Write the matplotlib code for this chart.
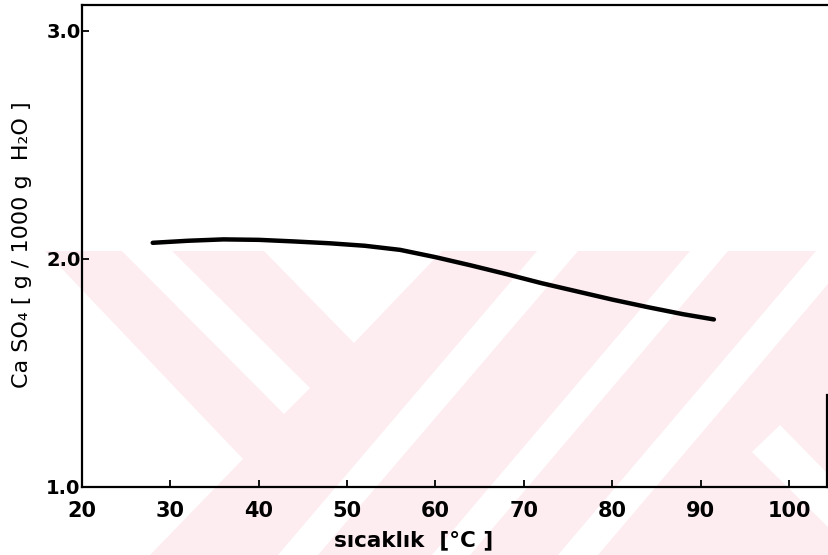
import matplotlib.pyplot as plt
import matplotlib.patches as patches

# CaSO4 solubility vs. temperature
sicaklik = [28, 32, 36, 40, 44, 48, 52, 56, 60, 64, 68, 72, 76, 80, 84, 88, 91.5]
caso4 = [2.071, 2.080, 2.086, 2.084, 2.077, 2.069, 2.058, 2.040, 2.008,
         1.972, 1.934, 1.894, 1.858, 1.822, 1.789, 1.758, 1.735]

x_ticks = [20, 30, 40, 50, 60, 70, 80, 90, 100]
y_ticks = [1.0, 2.0, 3.0]

W, H = 829, 555
fig = plt.figure(figsize=(W / 100, H / 100), dpi=100)

# background stamp: pink field with white diagonal cut-outs (pixel coords, y down)
pembe = '#fdedf0'
def px(pts):
    return [(x / W, 1 - y / H) for x, y in pts]

fig.patches.append(patches.Polygon(px([(0, 251), (W, 251), (W, H), (0, H)]),
                                   closed=True, facecolor=pembe, edgecolor='none',
                                   transform=fig.transFigure, zorder=-2))
beyaz = [
    [(0, 251), (45, 251), (243, 459), (150, 555), (0, 555)],
    [(122, 251), (172, 251), (310, 388), (284, 414)],
    [(264, 251), (442, 251), (354, 343)],
    [(537, 251), (578, 251), (318, 555), (278, 555)],
    [(690, 251), (728, 251), (470, 555), (432, 555)],
    [(816, 251), (856, 251), (598, 555), (558, 555)],
    [(752, 452), (780, 425), (829, 475), (829, 528)],
]
for poly in beyaz:
    fig.patches.append(patches.Polygon(px(poly), closed=True, facecolor='white',
                                       edgecolor='none', transform=fig.transFigure,
                                       zorder=-1))

ax = fig.add_axes([82 / W, (H - 487) / H, (827 - 82) / W, (487 - 5) / H])
ax.set_facecolor('none')

ax.plot(sicaklik, caso4, color='black', linewidth=3.2, solid_capstyle='round')

ax.set_xlim(20, 104.3)
ax.set_ylim(1.0, 3.114)
ax.set_xticks(x_ticks)
ax.set_yticks(y_ticks)
ax.set_xticklabels([str(t) for t in x_ticks])
ax.set_yticklabels(['%.1f' % t for t in y_ticks])

ax.tick_params(axis='x', direction='in', length=5, width=1.3, pad=10,
               labelsize=15)
ax.tick_params(axis='y', direction='in', length=5, width=1.3, pad=1,
               labelsize=14)
for lab in ax.get_xticklabels() + ax.get_yticklabels():
    lab.set_fontweight('bold')

for s in ['left', 'bottom', 'top']:
    ax.spines[s].set_linewidth(1.6)
ax.spines['right'].set_visible(False)
ax.axvline(104.3, ymin=0, ymax=0.19, color='black', linewidth=1.6, clip_on=False)

fig.text(22 / W, 1 - 245 / H, 'Ca SO₄ [ g / 1000 g  H₂O ]', rotation=90,
         ha='center', va='center', fontsize=16)
fig.text(414 / W, 1 - 540 / H, 'sıcaklık  [°C ]', ha='center', va='center',
         fontsize=15.5, fontweight='bold')

fig.savefig('out.png', dpi=100)
